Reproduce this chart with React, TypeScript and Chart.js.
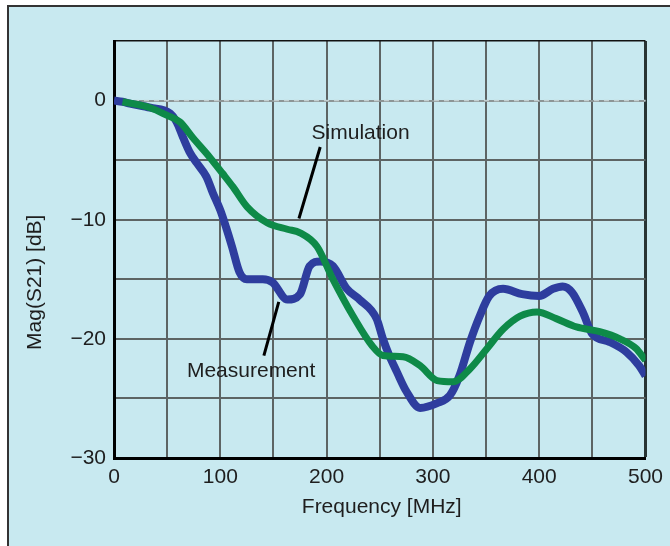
import React, { useEffect, useRef } from "react";
import { Chart, registerables } from "chart.js";

Chart.register(...registerables);

// Measurement (blue) trace: frequency [MHz] and Mag(S21) [dB]
const measFreq = [0, 8, 15, 34, 53, 59, 65, 71, 78, 87, 93, 100, 106, 111, 118, 125, 140, 149, 163, 175, 184, 194, 206, 219, 231, 247, 253, 259, 266, 275, 288, 304, 316, 325, 335, 344, 353, 366, 384, 400, 413, 422, 431, 441, 450, 466, 482, 494, 500];
const measMag = [0, -0.1, -0.25, -0.6, -1.1, -1.8, -3.1, -4.3, -5.25, -6.4, -7.75, -9.2, -10.8, -12.25, -14.4, -15, -15, -15.25, -16.7, -16.25, -13.9, -13.5, -13.9, -15.8, -16.7, -18.3, -20, -21.4, -22.75, -24.4, -25.8, -25.4, -24.75, -23.1, -20.25, -18.1, -16.4, -15.8, -16.25, -16.4, -15.8, -15.6, -16.1, -17.75, -19.6, -20.25, -21.1, -22.25, -23.1];

// Simulation (green) trace
const simFreq = [8, 34, 50, 62, 74, 90, 102, 112, 125, 144, 163, 175, 191, 206, 225, 243, 253, 272, 288, 304, 319, 335, 351, 366, 382, 398, 416, 435, 457, 476, 491, 500];
const simMag = [-0.1, -0.6, -1.25, -1.8, -3.1, -4.75, -6.1, -7.25, -8.9, -10.25, -10.8, -11.1, -12.25, -15, -18.1, -20.6, -21.4, -21.5, -22.25, -23.5, -23.6, -22.5, -20.8, -19.2, -18.1, -17.75, -18.3, -19, -19.4, -20, -20.8, -21.8];

const xTickStep = 50;
const yTickStep = 5;
const xMin = 0, xMax = 500;
const yMin = -30, yMax = 5;

const xTitle = "Frequency [MHz]";
const yTitle = "Mag(S21) [dB]";
const simLabel = "Simulation";
const measLabel = "Measurement";

const FONT = '"Liberation Sans", Arial, Helvetica, sans-serif';
const BG = "#c8e9f0";
const GRID = "#5d6464";
const TEXT = "#1e1e1e";

export default function App() {
  const ref = useRef<HTMLCanvasElement | null>(null);

  useEffect(() => {
    if (!ref.current) return;

    const overlay = {
      id: "overlay",
      beforeDatasetsDraw(chart: any) {
        const { ctx, scales } = chart;
        const x = scales.x, y = scales.y;
        const py = y.getPixelForValue(0);
        ctx.save();
        ctx.strokeStyle = "#c4cfd1";
        ctx.lineWidth = 1.5;
        ctx.setLineDash([5, 5]);
        ctx.beginPath();
        ctx.moveTo(x.left, py);
        ctx.lineTo(x.right, py);
        ctx.stroke();
        ctx.restore();
      },
      afterDraw(chart: any) {
        const { ctx, scales, chartArea } = chart;
        const x = scales.x, y = scales.y;
        ctx.save();
        ctx.fillStyle = TEXT;
        ctx.font = `21px ${FONT}`;
        ctx.textAlign = "center";
        ctx.textBaseline = "middle";
        // axis titles
        ctx.fillText(xTitle, (chartArea.left + chartArea.right) / 2 + 2, 507);
        ctx.save();
        ctx.translate(35, y.getPixelForValue(-15.25));
        ctx.rotate(-Math.PI / 2);
        ctx.fillText(yTitle, 0, 0);
        ctx.restore();
        // annotations
        ctx.fillText(simLabel, x.getPixelForValue(232), y.getPixelForValue(-2.75));
        ctx.fillText(measLabel, x.getPixelForValue(129), y.getPixelForValue(-22.75));
        ctx.strokeStyle = "#000";
        ctx.lineWidth = 3;
        ctx.beginPath();
        ctx.moveTo(x.getPixelForValue(194), y.getPixelForValue(-3.9));
        ctx.lineTo(x.getPixelForValue(174), y.getPixelForValue(-9.9));
        ctx.moveTo(x.getPixelForValue(155), y.getPixelForValue(-16.9));
        ctx.lineTo(x.getPixelForValue(141), y.getPixelForValue(-21.4));
        ctx.stroke();
        ctx.restore();
      },
    };

    const chart = new Chart(ref.current, {
      type: "line",
      data: {
        datasets: [
          {
            label: simLabel,
            data: simFreq.map((f, i) => ({ x: f, y: simMag[i] })),
            borderColor: "#0e8a48",
            borderWidth: 7,
            pointRadius: 0,
            cubicInterpolationMode: "monotone",
            fill: false,
          },
          {
            label: measLabel,
            data: measFreq.map((f, i) => ({ x: f, y: measMag[i] })),
            borderColor: "#2e3d9e",
            borderWidth: 8,
            pointRadius: 0,
            cubicInterpolationMode: "monotone",
            fill: false,
          },
        ],
      },
      plugins: [overlay],
      options: {
        animation: false,
        responsive: false,
        maintainAspectRatio: false,
        layout: { padding: { top: 41, right: 24, left: 0, bottom: 0 } },
        plugins: { legend: { display: false }, tooltip: { enabled: false } },
        scales: {
          x: {
            type: "linear",
            min: xMin,
            max: xMax,
            afterFit: (s: any) => { s.height = 88; },
            ticks: {
              stepSize: xTickStep,
              autoSkip: false,
              maxRotation: 0,
              padding: 7,
              color: TEXT,
              font: { family: FONT, size: 21 },
              callback: (v: any) => (v % 100 === 0 ? String(v) : ""),
            },
            grid: {
              drawTicks: false,
              color: (c: any) => (c.tick && c.tick.value === xMax ? "#283434" : GRID),
              lineWidth: (c: any) => (c.tick && c.tick.value === xMax ? 3 : 2),
            },
            border: { color: "#000", width: 3 },
          },
          y: {
            type: "linear",
            min: yMin,
            max: yMax,
            afterFit: (s: any) => { s.width = 114; },
            ticks: {
              stepSize: yTickStep,
              autoSkip: false,
              padding: 8,
              color: TEXT,
              font: { family: FONT, size: 21 },
              callback: (v: any) => (v % 10 === 0 ? (v < 0 ? "\u2212" + Math.abs(v) : String(v)) : ""),
            },
            grid: {
              drawTicks: false,
              color: (c: any) => {
                const v = c.tick && c.tick.value;
                if (v === yMax) return "#111";
                if (v === 0) return "#8d9596";
                return GRID;
              },
              lineWidth: (c: any) => (c.tick && c.tick.value === yMax ? 1.5 : 2),
            },
            border: { color: "#000", width: 3 },
          },
        },
      },
    });
    return () => chart.destroy();
  }, []);

  return (
    <div style={{ position: "absolute", left: 0, top: 0, width: 670, height: 546, background: "#fff", overflow: "hidden" }}>
      <div
        style={{
          position: "absolute",
          left: 7,
          top: 5,
          width: 670,
          height: 546,
          background: BG,
          borderTop: "2px solid #333",
          borderLeft: "2px solid #333",
        }}
      />
      <canvas ref={ref} width={670} height={546} style={{ position: "absolute", left: 0, top: 0, width: 670, height: 546 }} />
    </div>
  );
}
